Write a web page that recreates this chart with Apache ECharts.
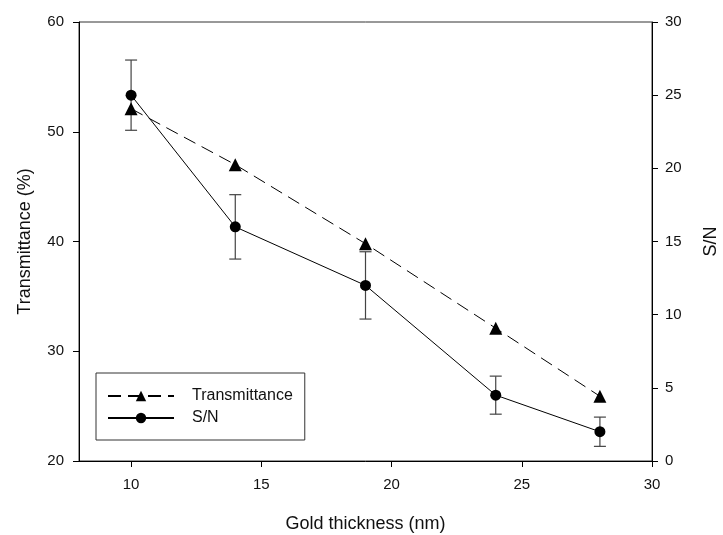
<!DOCTYPE html>
<html>
<head>
<meta charset="utf-8">
<script src="https://cdn.jsdelivr.net/npm/echarts@6/dist/echarts.min.js"></script>
<style>
  html, body { margin: 0; padding: 0; background: #fff; }
  #chart { width: 723px; height: 535px; }
</style>
</head>
<body>
<div id="chart"></div>
<script>
// Gold film thickness (nm)
const thickness = [10, 14, 19, 24, 28];
// Optical transmittance (%), left axis
const transmittance = [52.1, 47.0, 39.8, 32.1, 25.9];
// Signal-to-noise ratio, right axis
const snr = [25.0, 16.0, 12.0, 4.5, 2.0];
// Standard deviation of the S/N measurement
const snrErr = [2.4, 2.2, 2.3, 1.3, 1.0];
// Tick values
const xTicks = [10, 15, 20, 25, 30];

const FONT = 'Liberation Sans, Arial, sans-serif';

const transData = thickness.map((x, i) => [x, transmittance[i]]);
const snrData = thickness.map((x, i) => [x, snr[i]]);
const errData = thickness.map((x, i) => [x, snr[i] - snrErr[i], snr[i] + snrErr[i]]);

const chart = echarts.init(document.getElementById('chart'), null, { renderer: 'canvas' });

chart.setOption({
  animation: false,
  backgroundColor: '#fff',
  grid: {
    left: 79, right: 71, top: 22, bottom: 74,
    containLabel: false,
    outerBoundsMode: 'none',
    show: true, borderColor: '#333', borderWidth: 1
  },
  legend: {
    orient: 'vertical',
    left: 96, top: 373,
    borderColor: '#333', borderWidth: 1,
    padding: [15, 12, 14, 11],
    itemWidth: 66, itemHeight: 13, itemGap: 6,
    textStyle: { fontFamily: FONT, fontSize: 16, color: '#111', padding: [0, 0, 0, 13] },
    data: ['Transmittance', 'S/N']
  },
  xAxis: {
    type: 'value', min: 8, max: 30,
    name: 'Gold thickness (nm)', nameLocation: 'middle', nameGap: 54,
    nameTextStyle: { fontFamily: FONT, fontSize: 18, color: '#111' },
    axisLine: { lineStyle: { color: '#000', width: 1 } },
    axisTick: { show: true, inside: false, length: 6, customValues: xTicks, lineStyle: { color: '#000' } },
    axisLabel: { customValues: xTicks, margin: 16, fontFamily: FONT, fontSize: 15, color: '#111' },
    splitLine: { show: false }
  },
  yAxis: [
    {
      type: 'value', min: 20, max: 60, interval: 10, position: 'left',
      name: 'Transmittance (%)', nameLocation: 'middle', nameGap: 45,
      nameTextStyle: { fontFamily: FONT, fontSize: 18, color: '#111' },
      axisLine: { show: true, lineStyle: { color: '#000', width: 1 } },
      axisTick: { show: true, length: 6, lineStyle: { color: '#000' } },
      axisLabel: { margin: 15, fontFamily: FONT, fontSize: 15, color: '#111' },
      splitLine: { show: false }
    },
    {
      type: 'value', min: 0, max: 30, interval: 5, position: 'right',
      name: 'S/N', nameLocation: 'middle', nameGap: 50, nameRotate: 90,
      nameTextStyle: { fontFamily: FONT, fontSize: 18, color: '#111' },
      axisLine: { show: true, lineStyle: { color: '#000', width: 1 } },
      axisTick: { show: true, length: 6, lineStyle: { color: '#000' } },
      axisLabel: { margin: 13, fontFamily: FONT, fontSize: 15, color: '#111' },
      splitLine: { show: false }
    }
  ],
  series: [
    {
      name: 'S/N error',
      type: 'custom',
      yAxisIndex: 1,
      z: 1,
      silent: true,
      data: errData,
      renderItem: function (params, api) {
        const x = api.value(0);
        const lo = api.coord([x, api.value(1)]);
        const hi = api.coord([x, api.value(2)]);
        const cap = 6;
        const style = { stroke: '#444', lineWidth: 1.2, fill: null };
        return {
          type: 'group',
          children: [
            { type: 'line', shape: { x1: lo[0], y1: lo[1], x2: hi[0], y2: hi[1] }, style: style },
            { type: 'line', shape: { x1: lo[0] - cap, y1: lo[1], x2: lo[0] + cap, y2: lo[1] }, style: style },
            { type: 'line', shape: { x1: hi[0] - cap, y1: hi[1], x2: hi[0] + cap, y2: hi[1] }, style: style }
          ]
        };
      }
    },
    {
      name: 'Transmittance',
      type: 'line',
      yAxisIndex: 0,
      z: 3,
      data: transData,
      symbol: 'triangle',
      symbolSize: 13,
      itemStyle: { color: '#000' },
      lineStyle: { color: '#000', width: 1, type: [13, 7] }
    },
    {
      name: 'S/N',
      type: 'line',
      yAxisIndex: 1,
      z: 4,
      data: snrData,
      symbol: 'circle',
      symbolSize: 11,
      itemStyle: { color: '#000' },
      lineStyle: { color: '#000', width: 1 }
    }
  ]
});
</script>
</body>
</html>
